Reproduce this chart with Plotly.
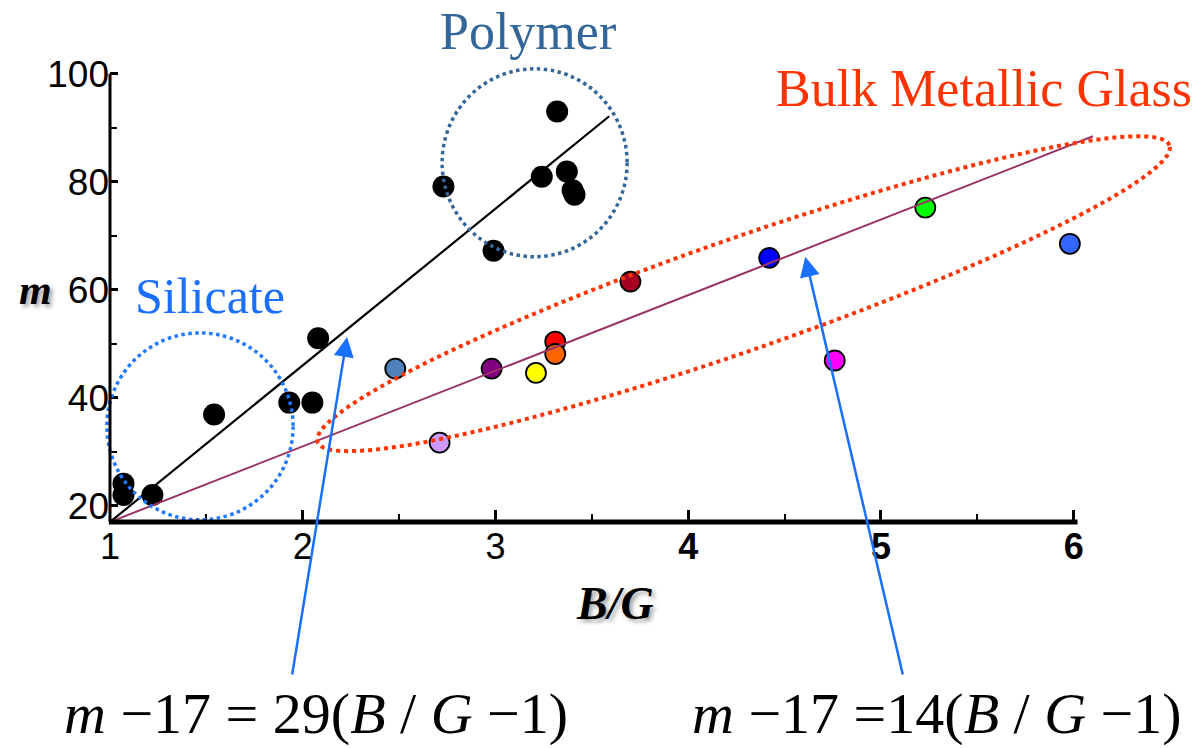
import numpy as np
import plotly.graph_objects as go

# ---- data -------------------------------------------------------------
# network glasses (silicates and intermediates), black markers
silicate_bg = [1.07, 1.07, 1.22, 1.54, 1.93, 2.05, 2.08]
silicate_m = [24.1, 22.0, 22.0, 36.9, 39.1, 39.1, 51.0]

# polymers, black markers
polymer_bg = [2.73, 2.99, 3.24, 3.32, 3.37, 3.40, 3.41]
polymer_m = [79.1, 67.2, 80.9, 93.0, 81.9, 78.4, 77.6]

# bulk metallic glasses, one colour per alloy
bmg_bg = [2.48, 2.71, 2.98, 3.21, 3.31, 3.31, 3.70, 4.42, 4.76, 5.23, 5.98]
bmg_m = [45.4, 31.7, 45.4, 44.6, 50.4, 48.1, 61.5, 65.9, 46.9, 75.2, 68.5]
bmg_colors = ["#4f81bd", "#cc99ff", "#800080", "#ffff00", "#ff0000", "#ff6600",
              "#a50021", "#0000ff", "#ff00ff", "#00ff00", "#3366ff"]

# linear fits: m - 17 = k (B/G - 1)
fit_intercept = 17
fit_glass_slope = 29
fit_bmg_slope = 14
fit_glass_range = [1, 3.59]
fit_bmg_range = [1, 6.1]

x_ticks = [1, 2, 3, 4, 5, 6]
x_ticktext = ["1", "2", "3", "<b>4</b>", "<b>5</b>", "<b>6</b>"]
x_minor = [1.5, 2.5, 3.5, 4.5, 5.5]
y_ticks = [20, 40, 60, 80, 100]
y_minor = [30, 50, 70, 90]

# ---- layout geometry --------------------------------------------------
W, H = 1200, 748
L, T, B = 110, 65, 226
R = 1
xr = [1, 6.65]
yr = [17, 101.6]
plot_w = W - L - R
plot_h = H - T - B
ppx = plot_w / (xr[1] - xr[0])   # pixels per B/G unit
ppy = plot_h / (yr[1] - yr[0])   # pixels per m unit


def px_paper(px, py):
    return (px - L) / plot_w, (H - B - py) / plot_h


def data_paper(x, y):
    return (x - xr[0]) / (xr[1] - xr[0]), (y - yr[0]) / (yr[1] - yr[0])


def fit(slope, x):
    return fit_intercept + slope * (np.asarray(x, dtype=float) - 1)


def ellipse_path(cx, cy, a_px, b_px, deg, n=160):
    th = np.deg2rad(deg)
    t = np.linspace(0, 2 * np.pi, n)
    dx = a_px * np.cos(t) * np.cos(th) - b_px * np.sin(t) * np.sin(th)
    dy = a_px * np.cos(t) * np.sin(th) + b_px * np.sin(t) * np.cos(th)
    xs = cx + dx / ppx
    ys = cy + dy / ppy
    pts = [f"{x:.4f},{y:.4f}" for x, y in zip(xs, ys)]
    return "M" + " L".join(pts) + " Z"


def paper_circle(x0, x1, y0, y1, color):
    # ring drawn in paper units so it is not clipped at the axes
    px0, py0 = data_paper(x0, y0)
    px1, py1 = data_paper(x1, y1)
    return dict(type="circle", xref="paper", yref="paper",
                x0=px0, x1=px1, y0=py0, y1=py1,
                line=dict(color=color, width=3.5, dash="dot"))


fig = go.Figure()

# markers
fig.add_trace(go.Scatter(x=silicate_bg, y=silicate_m, mode="markers",
                         marker=dict(size=22, color="black", line=dict(width=0)),
                         showlegend=False))
fig.add_trace(go.Scatter(x=polymer_bg, y=polymer_m, mode="markers",
                         marker=dict(size=22, color="black", line=dict(width=0)),
                         showlegend=False))
fig.add_trace(go.Scatter(x=bmg_bg, y=bmg_m, mode="markers",
                         marker=dict(size=20, color=bmg_colors,
                                     line=dict(width=1.8, color="black")),
                         showlegend=False))

# fit lines
fig.add_trace(go.Scatter(x=fit_glass_range, y=fit(fit_glass_slope, fit_glass_range),
                         mode="lines", line=dict(color="black", width=2.2),
                         showlegend=False))
fig.add_trace(go.Scatter(x=fit_bmg_range, y=fit(fit_bmg_slope, fit_bmg_range),
                         mode="lines", line=dict(color="#993366", width=2),
                         showlegend=False))

shapes = []
# group outlines
shapes.append(paper_circle(0.984, 1.950, 17.4, 52.0, "#1f78ff"))
shapes.append(paper_circle(2.723, 3.683, 66.1, 100.9, "#336699"))
shapes.append(dict(type="path", xref="x", yref="y",
                   path=ellipse_path(4.287, 59.26, 451, 56, 19.2),
                   line=dict(color="#ff3300", width=4, dash="dot")))

# axis lines
x0p, y0p = data_paper(1, 17)
x6p, _ = data_paper(6.02, 17)
_, y100p = data_paper(1, 100)
shapes.append(dict(type="line", xref="paper", yref="paper", x0=x0p - 0.001, x1=x6p,
                   y0=y0p, y1=y0p, line=dict(color="black", width=5)))
shapes.append(dict(type="line", xref="paper", yref="paper", x0=x0p, x1=x0p,
                   y0=y0p, y1=y100p, line=dict(color="black", width=3)))

annotations = []


def text_at(px, py, text, size, color, family="Liberation Serif", shadow=None, **kw):
    xp, yp = px_paper(px, py)
    font = dict(family=family, size=size, color=color)
    if shadow:
        font["shadow"] = shadow
    annotations.append(dict(xref="paper", yref="paper", x=xp, y=yp, text=text,
                            showarrow=False, xanchor="center", yanchor="middle",
                            font=font, **kw))


text_at(210, 296, "Silicate", 50, "#1a6fff")
text_at(528, 32, "Polymer", 52, "#336699")
text_at(984, 88, "Bulk Metallic Glass", 52, "#ff3300")
text_at(35, 290, "<b><i>m</i></b>", 42, "black", shadow="3px 3px 4px rgba(0,0,0,0.35)")
text_at(615, 603, "<b><i>B/G</i></b>", 46, "black", shadow="3px 3px 4px rgba(0,0,0,0.35)")
text_at(316, 713, "<i>m</i> −17 = 29(<i>B</i> / <i>G</i> −1)", 58, "black")
text_at(937, 713, "<i>m</i> −17 =14(<i>B</i> / <i>G</i> −1)", 58, "black")

# arrows pointing at each fit line
arrow_specs = [(2.23, fit_glass_slope, 1.944), (4.607, fit_bmg_slope, 5.115)]
tail_y = -11.5
for xh, k, xt in arrow_specs:
    yh = float(fit(k, xh)) - 1.4
    annotations.append(dict(xref="x", yref="y", axref="x", ayref="y",
                            x=xh, y=yh, ax=xt, ay=tail_y, text="",
                            showarrow=True, arrowhead=2, arrowsize=1.6,
                            arrowwidth=2.5, arrowcolor="#1a6fff", standoff=0))

fig.update_layout(
    width=W, height=H, autosize=False,
    margin=dict(l=L, r=R, t=T, b=B, pad=0),
    paper_bgcolor="white", plot_bgcolor="white",
    shapes=shapes, annotations=annotations,
    xaxis=dict(range=xr, showgrid=False, zeroline=False, showline=False,
               tickmode="array", tickvals=x_ticks, ticktext=x_ticktext,
               ticks="inside", ticklen=12, tickwidth=2.5, tickcolor="black",
               tickfont=dict(family="Liberation Sans", size=36, color="black"),
               minor=dict(tickmode="array", tickvals=x_minor, ticks="inside",
                          ticklen=8, tickwidth=2, tickcolor="black", showgrid=False),
               automargin=False),
    yaxis=dict(range=yr, showgrid=False, zeroline=False, showline=False,
               tickmode="array", tickvals=y_ticks,
               ticks="inside", ticklen=8, tickwidth=2.5, tickcolor="black",
               tickfont=dict(family="Liberation Sans", size=37, color="black"),
               minor=dict(tickmode="array", tickvals=y_minor, ticks="inside",
                          ticklen=7, tickwidth=2, tickcolor="black", showgrid=False),
               automargin=False),
)

fig.write_html("out.html")
